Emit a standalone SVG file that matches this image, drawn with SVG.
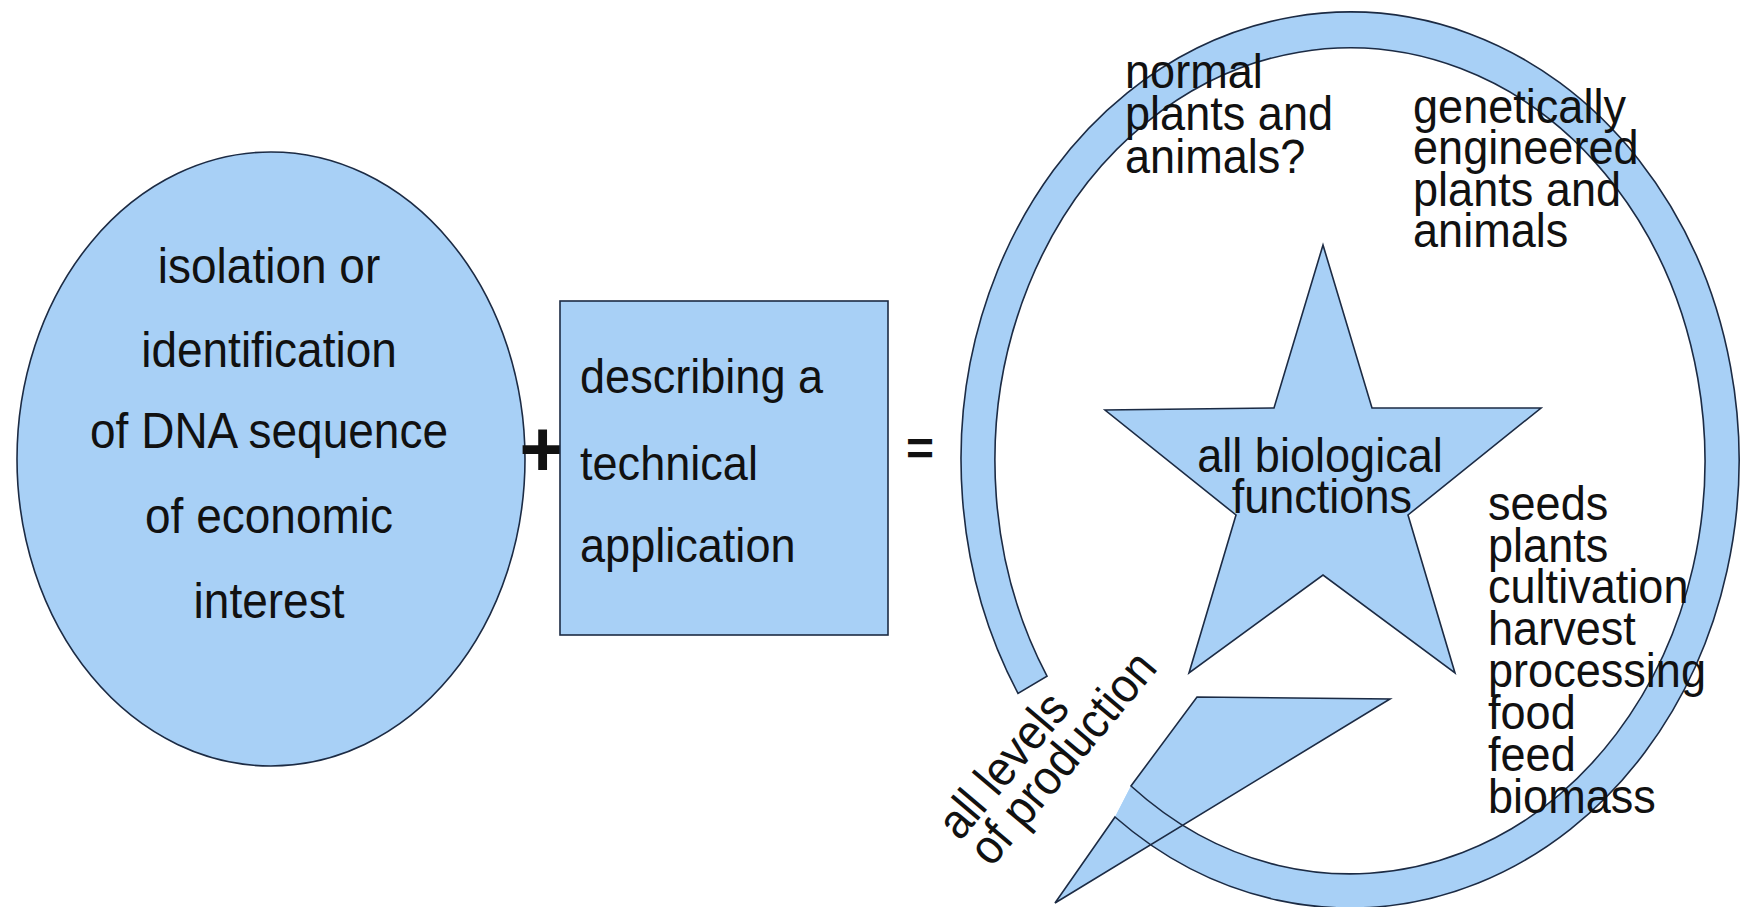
<svg xmlns="http://www.w3.org/2000/svg" width="1751" height="907" viewBox="0 0 1751 907">
<style>
.shape{fill:#a8d0f6;stroke:#1c2b44;stroke-width:1.6}
.fillonly{fill:#a8d0f6;stroke:none}
.outline{fill:none;stroke:#1c2b44;stroke-width:1.6;stroke-linejoin:miter}
text{font-family:"Liberation Sans",Arial,Helvetica,sans-serif;fill:#111}
.t45{font-size:49px}
.t46{font-size:50px}
.mid{text-anchor:middle}
.op{font-weight:bold}
</style>
<rect width="1751" height="907" fill="#ffffff"/>
<g id="connectors"/>
<g id="node-dna">
<ellipse class="shape" cx="271" cy="459" rx="254" ry="307"/>
<g transform="translate(269,0) scale(0.92,1)">
<text class="t46 mid"><tspan x="0" y="283">isolation or</tspan><tspan x="0" y="367">identification</tspan><tspan x="0" y="448">of DNA sequence</tspan><tspan x="0" y="533">of economic</tspan><tspan x="0" y="618">interest</tspan></text>
</g>
</g>
<g id="op-plus">
<text class="op mid" x="542.5" y="476" style="font-size:80px">+</text>
</g>
<g id="node-application">
<rect class="shape" x="560" y="301" width="328" height="334"/>
<g transform="translate(580,0) scale(0.92,1)">
<text class="t45"><tspan x="0" y="393">describing a</tspan><tspan x="0" y="480">technical</tspan><tspan x="0" y="562">application</tspan></text>
</g>
</g>
<g id="op-equals">
<text class="op mid" x="920" y="465" style="font-size:48px">=</text>
</g>
<g id="node-ring">
<path class="fillonly" d="M1018,693.4 A389,448 0 1 1 1115,817 L1131,786 A355,413 0 1 0 1047,676.2 Z"/>
<polygon class="fillonly" points="1115,817 1055,903 1390,699 1197,697 1131,786"/>
<path class="outline" d="M1018,693.4 A389,448 0 1 1 1115,817 L1055,903 L1390,699 L1197,697 L1131,786 A355,413 0 1 0 1047,676.2 Z"/>
</g>
<g id="node-star">
<polygon class="shape" points="1323,245 1372,408 1541,408 1408,515 1455,673 1323,575 1189,673 1236,515 1105,410 1274,408"/>
<g transform="translate(1320,0) scale(0.92,1)">
<text class="t45 mid"><tspan x="0" y="472">all biological</tspan><tspan x="2" y="513">functions</tspan></text>
</g>
</g>
<g id="label-normal" transform="translate(1125,0) scale(0.92,1)">
<text class="t45"><tspan x="0" y="88">normal</tspan><tspan x="0" y="130">plants and</tspan><tspan x="0" y="173">animals?</tspan></text>
</g>
<g id="label-gm" transform="translate(1413,0) scale(0.92,1)">
<text class="t45"><tspan x="0" y="123">genetically</tspan><tspan x="0" y="164">engineered</tspan><tspan x="0" y="206">plants and</tspan><tspan x="0" y="247">animals</tspan></text>
</g>
<g id="label-levels" transform="translate(1488,0) scale(0.92,1)">
<text class="t45"><tspan x="0" y="520">seeds</tspan><tspan x="0" y="562">plants</tspan><tspan x="0" y="603">cultivation</tspan><tspan x="0" y="645">harvest</tspan><tspan x="0" y="687">processing</tspan><tspan x="0" y="729">food</tspan><tspan x="0" y="771">feed</tspan><tspan x="0" y="813">biomass</tspan></text>
</g>
<g id="label-production" transform="translate(960,842) rotate(-50) scale(0.92,1)">
<text class="t45"><tspan x="0" y="0">all levels</tspan><tspan x="0" y="41">of production</tspan></text>
</g>
</svg>
